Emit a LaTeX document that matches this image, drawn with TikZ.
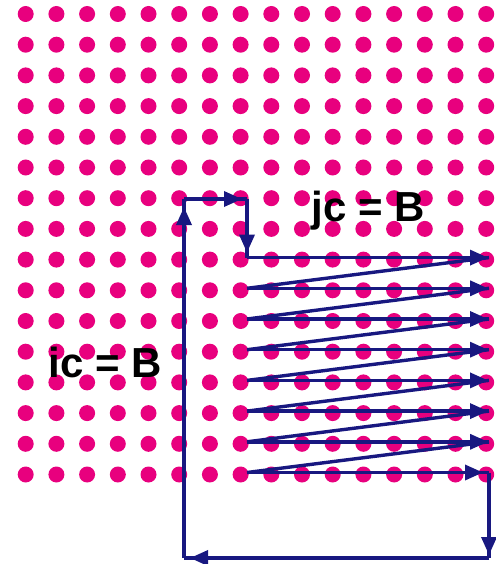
\documentclass[tikz,border=0pt]{standalone}
\usepackage{fontspec}
\setmainfont{Liberation Sans}
\usetikzlibrary{arrows.meta, decorations.markings}
\definecolor{gridpink}{RGB}{232,0,126}
\definecolor{scannavy}{RGB}{24,24,128}

\tikzset{
  gridpt/.style={circle, fill=gridpink, inner sep=0pt, minimum size=16pt},
  scan/.style={color=scannavy, draw, line width=3.4pt, line join=miter},
  tipend/.style={postaction=decorate, decoration={markings,
      mark=at position -#1 with {\arrow{Triangle[length=18pt,width=15pt]}}}},
  tipend/.default=5pt,
  lbl/.style={font=\bfseries\fontsize{42}{42}\selectfont, text=black, inner sep=0pt}
}

\begin{document}
\begin{tikzpicture}[x=1pt, y=-1pt]
  \useasboundingbox (0,0) rectangle (495,564);
  % lattice of grid points
  \foreach \i in {0,...,15}
    \foreach \j in {0,...,15}
      \node[gridpt] (p-\i-\j) at ({25.7+30.7*\i}, {14+30.7*\j}) {};

  % corners of the scan path
  \coordinate (lowL) at (184,558);
  \coordinate (topL) at (184,199);
  \coordinate (topR) at (247,199);
  \coordinate (lowR) at (489,558);
  \foreach \r in {8,...,15} {
    \coordinate (s\r) at (247, {12+30.7*\r});
    \coordinate (e\r) at (489, {12+30.7*\r});
  }

  \draw[scan, tipend=8pt] (lowL) -- (topL);
  \draw[scan, tipend] (topL) -- (topR);
  \draw[scan, tipend] (topR) -- (s8);
  \foreach \r in {8,...,14}
    \draw[scan, tipend=1pt] (s\r) -- (e\r);
  \draw[scan, tipend=6pt] (s15) -- (e15);
  \foreach \r [count=\n from 9] in {8,...,14}
    \draw[scan] (e\r) -- (s\n);
  \draw[scan, tipend=3pt] (e15) -- (lowR);
  \draw[scan, tipend=6pt] (lowR) -- (lowL);

  \node[lbl] (jlbl) at (368,211) {jc = B};
  \node[lbl] (ilbl) at (105,362) {ic = B};
\end{tikzpicture}
\end{document}
